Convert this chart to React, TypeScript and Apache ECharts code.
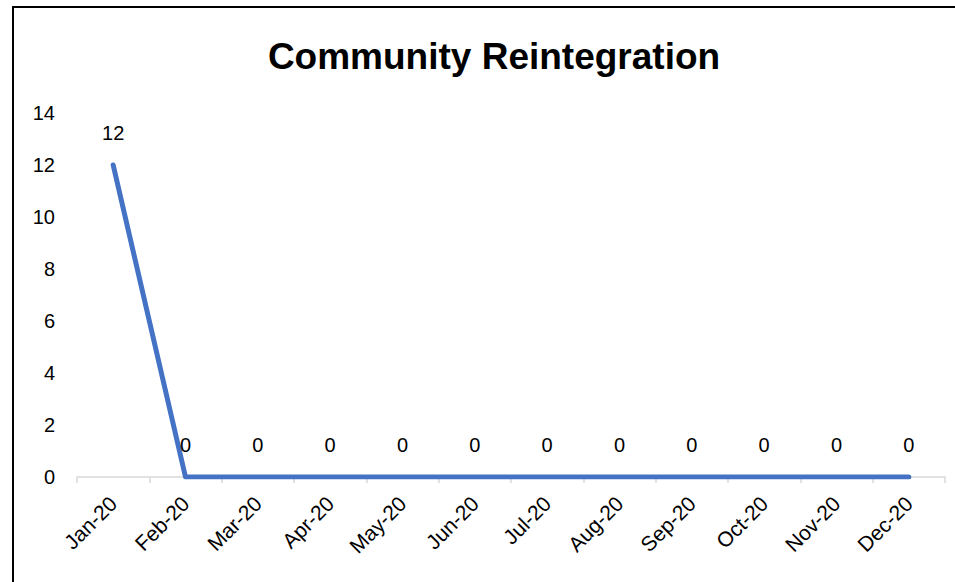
import React, { useEffect, useRef } from "react";
import * as echarts from "echarts";

const categories = ["Jan-20", "Feb-20", "Mar-20", "Apr-20", "May-20", "Jun-20", "Jul-20", "Aug-20", "Sep-20", "Oct-20", "Nov-20", "Dec-20"];
const values = [12, 0, 0, 0, 0, 0, 0, 0, 0, 0, 0, 0];
const yTicks = [0, 2, 4, 6, 8, 10, 12, 14];

const FONT = "'Liberation Sans', 'DejaVu Sans', sans-serif";

export default function App() {
  const ref = useRef<HTMLDivElement>(null);
  useEffect(() => {
    if (!ref.current) return;
    const chart = echarts.init(ref.current, undefined, { renderer: "svg" });
    chart.setOption({
      animation: false,
      backgroundColor: "#ffffff",
      title: {
        text: "Community Reintegration",
        left: 489,
        textAlign: "center",
        top: 33,
        textStyle: { fontFamily: FONT, fontWeight: "bold", fontSize: 37, color: "#000" },
      },
      graphic: [
        {
          type: "rect",
          shape: { x: 13, y: 7, width: 1200, height: 800 },
          style: { fill: "none", stroke: "#000", lineWidth: 2 },
          silent: true,
        },
      ],
      grid: { left: 77, right: 10, top: 113, bottom: 105, containLabel: false },
      xAxis: {
        type: "category",
        data: categories,
        boundaryGap: true,
        axisLine: { show: true, lineStyle: { color: "#d9d9d9", width: 1.5 } },
        axisTick: { show: true, length: 6, lineStyle: { color: "#d9d9d9", width: 1.5 } },
        axisLabel: { rotate: 45, margin: 23, fontFamily: FONT, fontSize: 21, color: "#000" },
      },
      yAxis: {
        type: "value",
        min: yTicks[0],
        max: yTicks[yTicks.length - 1],
        interval: 2,
        splitLine: { show: false },
        axisLine: { show: false },
        axisTick: { show: false },
        axisLabel: { margin: 22, fontFamily: FONT, fontSize: 20, color: "#000" },
      },
      series: [
        {
          type: "line",
          data: values,
          symbol: "circle",
          symbolSize: 1,
          showSymbol: true,
          lineStyle: { color: "#4472C4", width: 5, cap: "round", join: "round" },
          itemStyle: { color: "#4472C4" },
          label: { show: true, position: "top", distance: 22, fontFamily: FONT, fontSize: 20, color: "#000" },
        },
      ],
    });
    return () => chart.dispose();
  }, []);
  return <div ref={ref} style={{ position: "absolute", left: 0, top: 0, width: 955, height: 582 }} />;
}
